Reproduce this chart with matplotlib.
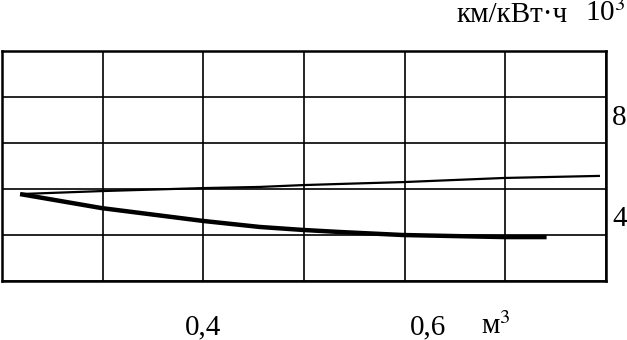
import matplotlib
matplotlib.use("Agg")
import matplotlib.pyplot as plt
import matplotlib.transforms as mtransforms
import numpy as np

plt.rcParams['font.family'] = ['Liberation Serif', 'DejaVu Serif']
plt.rcParams['mathtext.fontset'] = 'stix'

# объём, м3
x_up = [0.218, 0.299, 0.400, 0.456, 0.499, 0.536, 0.598, 0.699, 0.794]
y_up = [5.78, 5.91, 6.04, 6.09, 6.17, 6.22, 6.30, 6.48, 6.57]

x_low = [0.218, 0.299, 0.400, 0.456, 0.499, 0.536, 0.598, 0.699, 0.741]
y_low = [5.78, 5.17, 4.61, 4.35, 4.22, 4.13, 4.00, 3.91, 3.91]

x_labels = [(0.40, "0,4"), (0.623, "0,6")]
y_labels = [(4.70, "4"), (9.09, "8")]

fig = plt.figure(figsize=(6.27, 3.40), dpi=100)
ax = fig.add_axes([0.0032, 0.1735, 0.9633, 0.6765])

ax.plot(x_up, y_up, color='black', lw=1.6, solid_capstyle='butt')
ax.plot(x_low, y_low, color='black', lw=3.2, solid_capstyle='butt')

ax.set_xlim(0.2, 0.8)
ax.set_ylim(2, 12)
ax.set_xticks(np.arange(0.2, 0.81, 0.1))
ax.set_yticks(np.arange(2, 12.1, 2))
ax.grid(True, color='black', lw=1.2)
ax.tick_params(length=0, labelbottom=False, labelleft=False)
for s in ax.spines.values():
    s.set_linewidth(1.8)

fs = 21
base = 1 - 334 / 340
xfig = mtransforms.blended_transform_factory(ax.transData, fig.transFigure)
for xv, t in x_labels:
    ax.text(xv, base, t, transform=xfig, ha='center', va='baseline', fontsize=fs)
for yv, t in y_labels:
    ax.text(1.022, yv, t, transform=ax.get_yaxis_transform(),
            ha='center', va='center', fontsize=fs)

fig.text(481 / 627, base, "м$^3$", ha='left', va='baseline', fontsize=fs)
fig.text(512 / 627, 1 - 15 / 340, "км/кВт·ч", ha='center', va='center', fontsize=fs)
fig.text(605 / 627, 1 - 13 / 340, "10$^3$", ha='center', va='center', fontsize=fs)

fig.savefig("out.png", dpi=100)
